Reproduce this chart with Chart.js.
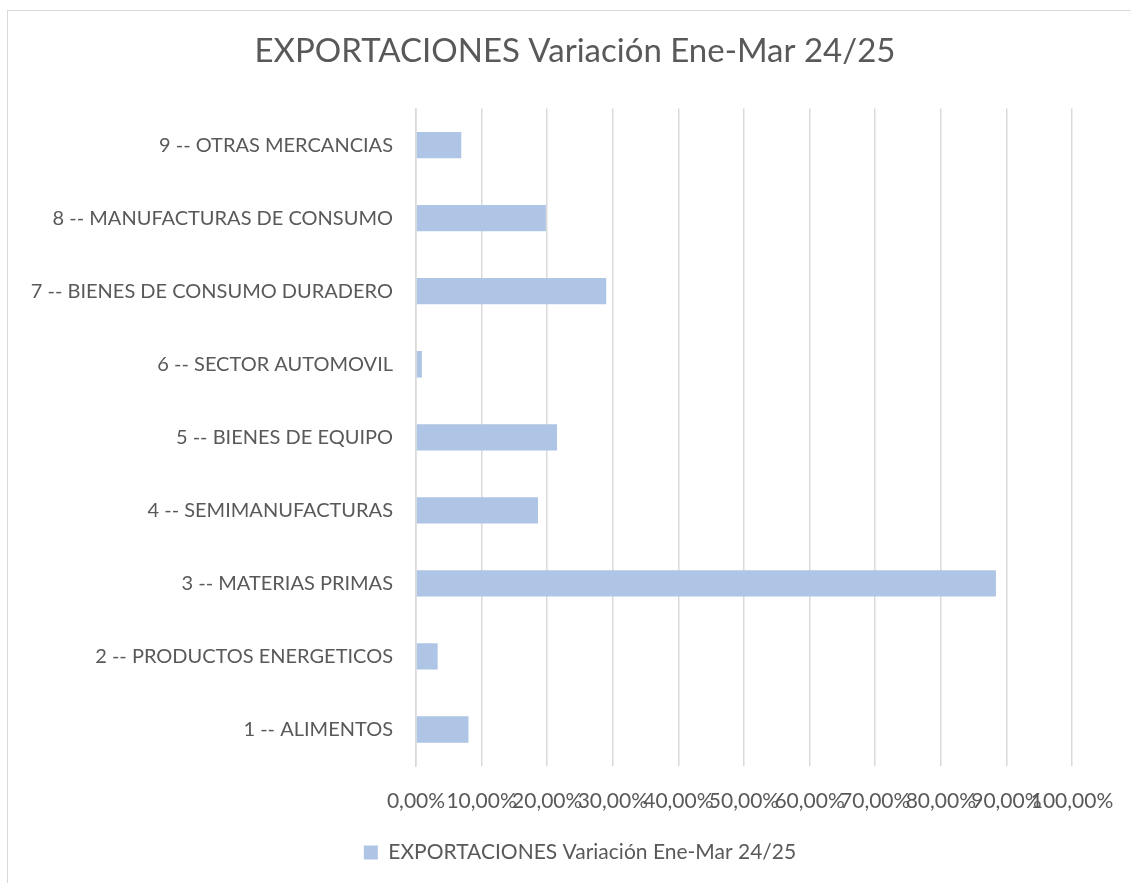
<!DOCTYPE html>
<html>
<head>
<meta charset="utf-8">
<script src="https://cdn.jsdelivr.net/npm/chart.js"></script>
<style>
  html, body { margin: 0; padding: 0; background: #fff; }
  #frame { position: absolute; left: 7px; top: 10px; width: 1130px; height: 880px; border: 1px solid #d9d9d9; }
  #wrap { position: absolute; left: 0; top: 0; width: 1131px; height: 883px; }
</style>
</head>
<body>
<div id="frame"></div>
<div id="wrap"><canvas id="chart" width="1131" height="883"></canvas></div>
<script>
// categorias (de abajo hacia arriba, como en el original)
const categorias = [
  '1 -- ALIMENTOS',
  '2 -- PRODUCTOS ENERGETICOS',
  '3 -- MATERIAS PRIMAS',
  '4 -- SEMIMANUFACTURAS',
  '5 -- BIENES DE EQUIPO',
  '6 -- SECTOR AUTOMOVIL',
  '7 -- BIENES DE CONSUMO DURADERO',
  '8 -- MANUFACTURAS DE CONSUMO',
  '9 -- OTRAS MERCANCIAS'
];
// variacion en %
const variacion = [8.0, 3.3, 88.4, 18.6, 21.5, 0.9, 29.0, 19.8, 6.9];
const serieNombre = 'EXPORTACIONES Variación Ene-Mar 24/25';
const tituloTexto = 'EXPORTACIONES Variación Ene-Mar 24/25';

const gris = '#595959';
const fuente = "Lato, 'Open Sans', sans-serif";

// titulo y leyenda van centrados sobre todo el marco (como en Excel), no sobre el hueco que deja el eje
const centrarCajas = {
  id: 'centrarCajas',
  afterLayout(chart) {
    chart.titleBlock.left += 39;
    chart.titleBlock.right += 39;
    chart.legend.left += 44;
    chart.legend.right += 44;
  }
};

const ctx = document.getElementById('chart').getContext('2d');
new Chart(ctx, {
  type: 'bar',
  data: {
    labels: categorias,
    datasets: [{
      label: serieNombre,
      data: variacion,
      backgroundColor: '#aec5e5',
      borderWidth: 0,
      categoryPercentage: 1,
      barPercentage: 0.36
    }]
  },
  plugins: [centrarCajas],
  options: {
    indexAxis: 'y',
    responsive: false,
    animation: false,
    layout: { padding: { left: 0, right: 59, top: 0, bottom: 10 } },
    plugins: {
      title: {
        display: true,
        text: tituloTexto,
        color: gris,
        font: { family: fuente, size: 33, weight: 'normal' },
        padding: { top: 32, bottom: 37 }
      },
      legend: {
        display: true,
        position: 'bottom',
        labels: {
          color: gris,
          boxWidth: 14,
          boxHeight: 14,
          font: { family: fuente, size: 21 },
          padding: 10
        }
      },
      tooltip: { enabled: false }
    },
    scales: {
      x: {
        min: 0,
        max: 100,
        ticks: {
          stepSize: 10,
          color: gris,
          padding: 23,
          maxRotation: 0,
          autoSkip: false,
          font: { family: fuente, size: 21 },
          callback: v => v.toFixed(2).replace('.', ',') + '%'
        },
        grid: { color: '#d9d9d9', lineWidth: 1.5, drawTicks: false },
        border: { display: false },
        afterFit: s => { s.height = 66; s.paddingRight = 0; }
      },
      y: {
        reverse: true,
        ticks: {
          color: gris,
          padding: 15,
          font: { family: fuente, size: 20 }
        },
        grid: { display: false },
        border: { color: '#d9d9d9', width: 1.5 },
        afterFit: s => { s.width = 416; }
      }
    }
  }
});
</script>
</body>
</html>
